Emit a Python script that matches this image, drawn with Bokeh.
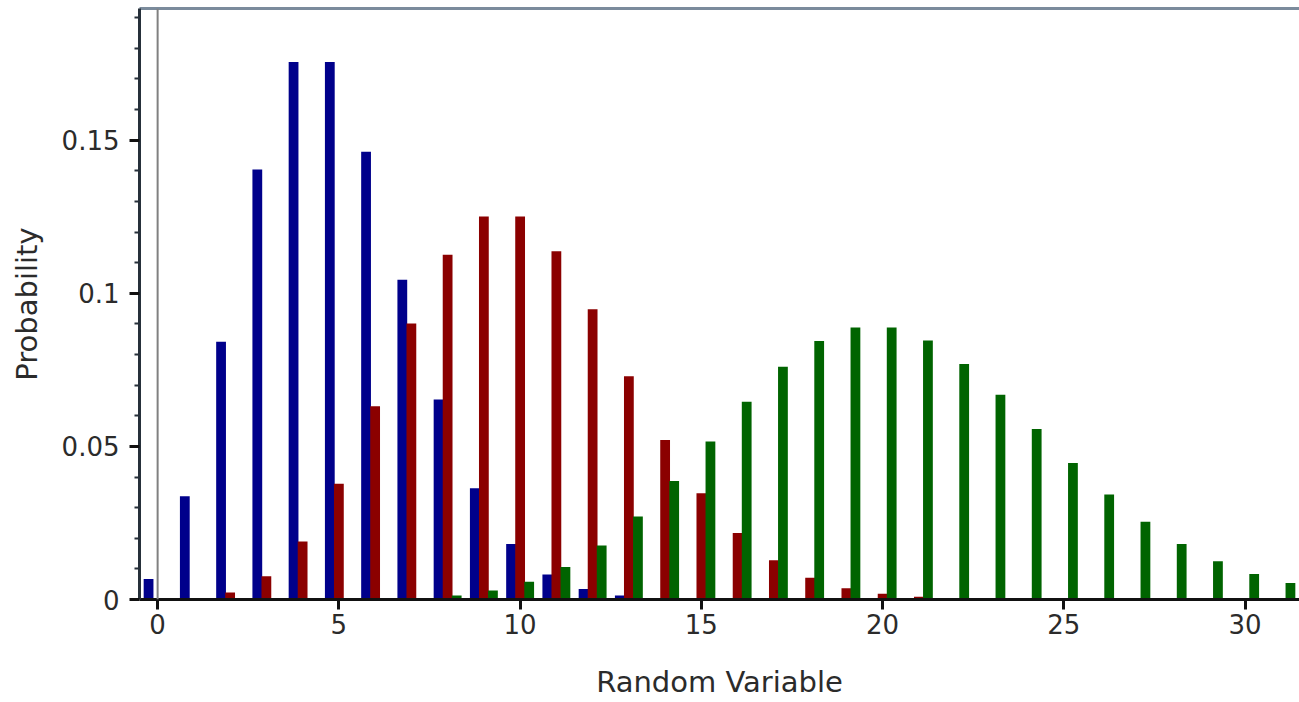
from bokeh.plotting import figure
from bokeh.models import Range1d, FixedTicker, LinearAxis, Span, ColumnDataSource
from bokeh.transform import dodge
from bokeh.embed import file_html
from bokeh.resources import INLINE

# Random variable values (0..31)
k = list(range(32))

# Probabilities of three distributions
blue_vals = [0.0067, 0.0337, 0.0842, 0.1404, 0.1755, 0.1755, 0.1462, 0.1044,
             0.0653, 0.0363, 0.0181, 0.0082, 0.0034, 0.0013, 0.0005, 0.0002,
             0.0, 0.0, 0.0, 0.0, 0.0, 0.0, 0.0, 0.0,
             0.0, 0.0, 0.0, 0.0, 0.0, 0.0, 0.0, 0.0]
red_vals = [0.0, 0.0005, 0.0023, 0.0076, 0.0189, 0.0378, 0.0631, 0.0901,
            0.1126, 0.1251, 0.1251, 0.1137, 0.0948, 0.0729, 0.0521, 0.0347,
            0.0217, 0.0128, 0.0071, 0.0037, 0.0019, 0.0009, 0.0004, 0.0002,
            0.0001, 0.0, 0.0, 0.0, 0.0, 0.0, 0.0, 0.0]
green_vals = [0.0, 0.0, 0.0, 0.0, 0.0, 0.0001, 0.0002, 0.0005,
              0.0013, 0.0029, 0.0058, 0.0106, 0.0176, 0.0271, 0.0387, 0.0516,
              0.0646, 0.0760, 0.0844, 0.0888, 0.0888, 0.0846, 0.0769, 0.0669,
              0.0557, 0.0446, 0.0343, 0.0254, 0.0181, 0.0125, 0.0083, 0.0054]

x_ticks = [0, 5, 10, 15, 20, 25, 30]
y_ticks = [0, 0.05, 0.1, 0.15]
y_tick_labels = ["0", "0.05", "0.1", "0.15"]
y_minor = [0.01, 0.02, 0.03, 0.04, 0.06, 0.07, 0.08, 0.09,
           0.11, 0.12, 0.13, 0.14, 0.16, 0.17, 0.18, 0.19]

FONT = "DejaVu Sans"
TXT = "#2b2b2b"

p = figure(width=1299, height=702, output_backend="svg", toolbar_location=None,
           x_range=Range1d(-0.5, 31.5), y_range=Range1d(0, 0.193),
           min_border_left=139, min_border_right=0, min_border_top=8,
           min_border_bottom=103, x_axis_label="Random Variable",
           y_axis_label="Probability")
p.grid.visible = False
p.outline_line_color = None
p.background_fill_color = "white"
p.border_fill_color = "white"

src = ColumnDataSource(dict(k=k, b=blue_vals, r=red_vals, g=green_vals))
W = 0.27
p.vbar(x=dodge("k", -0.25), top="b", width=W, source=src, fill_color="#00008b", line_color=None)
p.vbar(x=dodge("k", 0.0), top="r", width=W, source=src, fill_color="#8b0000", line_color=None)
p.vbar(x=dodge("k", 0.25), top="g", width=W, source=src, fill_color="#006400", line_color=None)

p.add_layout(Span(location=0, dimension="height", line_color="#808080", line_width=2))

# x axis
xa = p.xaxis[0]
xa.ticker = FixedTicker(ticks=x_ticks)
xa.axis_line_color = "#111111"
xa.axis_line_width = 3
xa.major_tick_line_color = "#111111"
xa.major_tick_line_width = 3
xa.major_tick_out = 10
xa.major_tick_in = 0
xa.minor_tick_line_color = None
xa.major_label_text_font = FONT
xa.major_label_text_font_size = "26px"
xa.major_label_text_color = TXT
xa.major_label_standoff = 4
xa.axis_label_text_font = FONT
xa.axis_label_text_font_size = "29px"
xa.axis_label_text_font_style = "normal"
xa.axis_label_text_color = TXT
xa.axis_label_standoff = 28

# y axis
ya = p.yaxis[0]
ya.ticker = FixedTicker(ticks=y_ticks, minor_ticks=y_minor)
ya.major_label_overrides = {t: s for t, s in zip(y_ticks, y_tick_labels)}
ya.axis_line_color = "#26303a"
ya.axis_line_width = 3
ya.major_tick_line_color = "#111111"
ya.major_tick_line_width = 3
ya.major_tick_out = 10
ya.major_tick_in = 0
ya.minor_tick_line_color = "#26303a"
ya.minor_tick_line_width = 2
ya.minor_tick_out = 5
ya.minor_tick_in = 0
ya.major_label_text_font = FONT
ya.major_label_text_font_size = "26px"
ya.major_label_text_color = TXT
ya.major_label_standoff = 10
ya.axis_label_text_font = FONT
ya.axis_label_text_font_size = "29px"
ya.axis_label_text_font_style = "normal"
ya.axis_label_text_color = TXT
ya.axis_label_standoff = 15

# top border line
top = LinearAxis(ticker=FixedTicker(ticks=[]), axis_line_color="#7b8b9c",
                 axis_line_width=3, major_tick_line_color=None,
                 minor_tick_line_color=None, major_label_text_font_size="0px")
p.add_layout(top, "above")

open("out.html", "w").write(file_html(p, INLINE))
